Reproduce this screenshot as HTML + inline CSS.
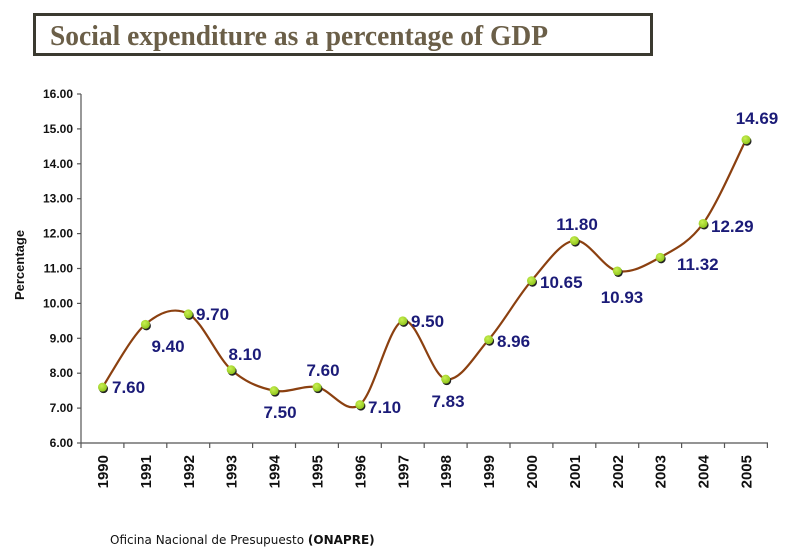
<!DOCTYPE html>
<html><head><meta charset="utf-8"><style>
body{margin:0;background:#fff;}
svg{display:block;}
.lbl{font:bold 17px "Liberation Sans",sans-serif;fill:#1b1b78;}
.yt{font:bold 12px "Liberation Sans",sans-serif;fill:#111;}
.xt{font:bold 15px "Liberation Sans",sans-serif;fill:#111;}
</style></head><body>
<svg id="s" width="800" height="558" viewBox="0 0 800 558" xmlns="http://www.w3.org/2000/svg">
<defs><radialGradient id="g" cx="0.4" cy="0.35" r="0.7"><stop offset="0" stop-color="#c8f050"/><stop offset="1" stop-color="#8cc21a"/></radialGradient></defs>
<rect x="34.5" y="14.5" width="617" height="40" fill="#fff" stroke="#3b3a30" stroke-width="3"/>
<text x="50" y="45" textLength="498" lengthAdjust="spacingAndGlyphs" style="font:bold 28px 'Liberation Serif',serif;fill:#6b5f48">Social expenditure as a percentage of GDP</text>
<g stroke="#555" stroke-width="1.2" fill="none">
<line x1="81" y1="94" x2="81" y2="443"/>
<line x1="81" y1="443" x2="768" y2="443"/>
</g>
<g id="ticks" stroke="#555" stroke-width="1.2"></g>
<g id="yl"></g>
<g id="xl"></g>
<text transform="translate(24,265) rotate(-90)" text-anchor="middle" class="yt" style="font-size:13px">Percentage</text>
<path id="curve" fill="none" stroke="#8b4010" stroke-width="2.2"/>
<g id="pts"></g>
<g>
<text class="lbl" x="112" y="393">7.60</text>
<text class="lbl" x="168" y="352" text-anchor="middle">9.40</text>
<text class="lbl" x="196" y="320">9.70</text>
<text class="lbl" x="245" y="360" text-anchor="middle">8.10</text>
<text class="lbl" x="280" y="418" text-anchor="middle">7.50</text>
<text class="lbl" x="323" y="376" text-anchor="middle">7.60</text>
<text class="lbl" x="368" y="413">7.10</text>
<text class="lbl" x="411" y="327">9.50</text>
<text class="lbl" x="448" y="407" text-anchor="middle">7.83</text>
<text class="lbl" x="497" y="347">8.96</text>
<text class="lbl" x="540" y="288">10.65</text>
<text class="lbl" x="577" y="230" text-anchor="middle">11.80</text>
<text class="lbl" x="622" y="303" text-anchor="middle">10.93</text>
<text class="lbl" x="677" y="270">11.32</text>
<text class="lbl" x="711" y="232">12.29</text>
<text class="lbl" x="757" y="124" text-anchor="middle">14.69</text>
</g>
<text x="110" y="544" style="font:12px 'DejaVu Sans',sans-serif;fill:#111">Oficina Nacional de Presupuesto <tspan font-weight="bold">(ONAPRE)</tspan></text>
</svg>
<script>
var NS="http://www.w3.org/2000/svg";
function el(p,t,a,txt){var e=document.createElementNS(NS,t);for(var k in a)e.setAttribute(k,a[k]);if(txt)e.textContent=txt;document.getElementById(p).appendChild(e);return e;}
var v=[7.60,9.40,9.70,8.10,7.50,7.60,7.10,9.50,7.83,8.96,10.65,11.80,10.93,11.32,12.29,14.69];
function Y(x){return 443-(x-6)*34.9;}
var P=v.map(function(a,i){return [102.5+42.9*i,Y(a)];});
for(var k=6;k<=16;k++){var y=Y(k);el("ticks","line",{x1:77,y1:y,x2:81,y2:y});el("yl","text",{x:73,y:y+4,"text-anchor":"end","class":"yt"},k.toFixed(2));}
for(var i=0;i<=16;i++){var x=81+42.9*i;el("ticks","line",{x1:x,y1:443,x2:x,y2:448});}
for(var i=0;i<16;i++){var x=P[i][0]+5.5;el("xl","text",{transform:"translate("+x+",455) rotate(-90)","text-anchor":"end","class":"xt"},String(1990+i));}
var d="M"+P[0][0]+","+P[0][1];
for(var i=0;i<P.length-1;i++){var p0=P[Math.max(0,i-1)],p1=P[i],p2=P[i+1],p3=P[Math.min(P.length-1,i+2)];
var c1=[p1[0]+(p2[0]-p0[0])/6,p1[1]+(p2[1]-p0[1])/6],c2=[p2[0]-(p3[0]-p1[0])/6,p2[1]-(p3[1]-p1[1])/6];
d+=" C"+c1+" "+c2+" "+p2;}
document.getElementById("curve").setAttribute("d",d);
P.forEach(function(p){el("pts","ellipse",{cx:p[0]+1,cy:p[1]+1.5,rx:4.5,ry:4.5,fill:"#222"});el("pts","ellipse",{cx:p[0],cy:p[1],rx:4.5,ry:4.5,fill:"url(#g)"});});
</script>
</body></html>
